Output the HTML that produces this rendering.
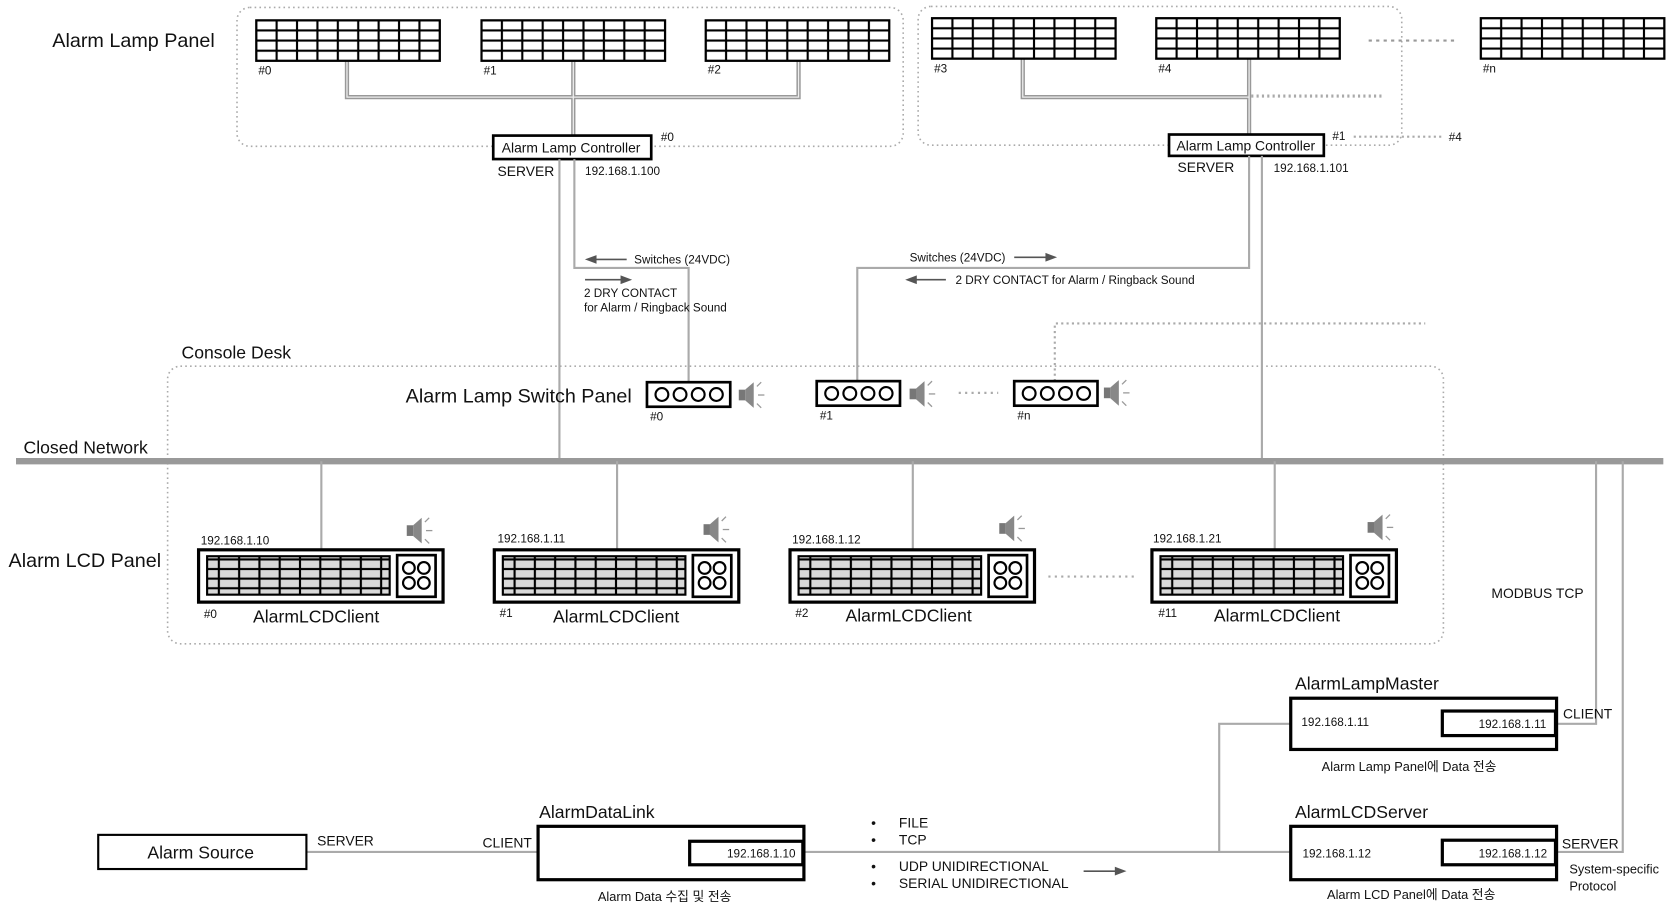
<!DOCTYPE html>
<html><head><meta charset="utf-8"><style>
html,body{margin:0;padding:0;background:#fff}
svg{display:block}
text{font-family:"Liberation Sans","Noto Sans CJK KR",sans-serif;fill:#111}
</style></head><body>
<svg width="1674" height="908" viewBox="0 0 1568 850.5" preserveAspectRatio="none" xmlns="http://www.w3.org/2000/svg">
<defs>
<pattern id="lg" patternUnits="userSpaceOnUse" width="19.11" height="9.5">
<rect x="0" y="0" width="19.11" height="9.5" fill="#fff" stroke="#000" stroke-width="2"/>
</pattern>
<pattern id="gg" patternUnits="userSpaceOnUse" width="19" height="9">
<rect x="0" y="0" width="19" height="9" fill="#d9d9d9" stroke="#000" stroke-width="2"/>
</pattern>
<g id="lamp"><rect x="0" y="0" width="172" height="38" fill="url(#lg)" stroke="#000" stroke-width="2"/></g>
<g id="lcd">
<rect x="0" y="0" width="229" height="49" fill="#fff" stroke="#000" stroke-width="3"/>
<rect x="8" y="6" width="171" height="36" fill="url(#gg)" stroke="#000" stroke-width="2"/>
<rect x="186" y="5" width="36" height="39" fill="#fff" stroke="#000" stroke-width="2.5"/>
<circle cx="197" cy="17" r="5.5" fill="none" stroke="#000" stroke-width="2"/>
<circle cx="211" cy="17" r="5.5" fill="none" stroke="#000" stroke-width="2"/>
<circle cx="197" cy="31" r="5.5" fill="none" stroke="#000" stroke-width="2"/>
<circle cx="211" cy="31" r="5.5" fill="none" stroke="#000" stroke-width="2"/>
</g>
<g id="sw">
<rect x="0" y="0" width="78" height="23" fill="#fff" stroke="#000" stroke-width="2.5"/>
<circle cx="14" cy="11.5" r="6" fill="none" stroke="#000" stroke-width="2"/>
<circle cx="31" cy="11.5" r="6" fill="none" stroke="#000" stroke-width="2"/>
<circle cx="48" cy="11.5" r="6" fill="none" stroke="#000" stroke-width="2"/>
<circle cx="65" cy="11.5" r="6" fill="none" stroke="#000" stroke-width="2"/>
</g>
<g id="spk">
<rect x="0" y="-5" width="6" height="10" fill="#777"/>
<polygon points="6,-5 14,-12 14,12 6,5" fill="#888"/>
<line x1="17" y1="-8" x2="21" y2="-12" stroke="#999" stroke-width="1.2"/>
<line x1="18" y1="0" x2="24" y2="0" stroke="#999" stroke-width="1.2"/>
<line x1="17" y1="8" x2="21" y2="12" stroke="#999" stroke-width="1.2"/>
</g>
</defs>

<rect x="222" y="7" width="624" height="130" rx="12" fill="none" stroke="#aaa" stroke-width="1.5" stroke-dasharray="1.5,3"/>
<rect x="860" y="6" width="453" height="130" rx="12" fill="none" stroke="#aaa" stroke-width="1.5" stroke-dasharray="1.5,3"/>
<rect x="157" y="343" width="1195" height="260" rx="12" fill="none" stroke="#aaa" stroke-width="1.5" stroke-dasharray="1.5,3"/>

<g fill="none" stroke="#999" stroke-width="4">
<path d="M325 56 V91 H748 V56"/><path d="M537 56 V127"/>
<path d="M958 54 V91 H1170"/><path d="M1170 54 V126"/>
</g>
<g fill="none" stroke="#eee" stroke-width="1.2">
<path d="M325 56 V91 H748 V56"/><path d="M537 56 V127"/>
<path d="M958 54 V91 H1170"/><path d="M1170 54 V126"/>
</g>
<line x1="1172" y1="90" x2="1295" y2="90" stroke="#aaa" stroke-width="3" stroke-dasharray="2,3"/>
<line x1="1268" y1="128" x2="1350" y2="128" stroke="#aaa" stroke-width="2" stroke-dasharray="2,3"/>

<use href="#lamp" x="240" y="19"/><use href="#lamp" x="451" y="19"/><use href="#lamp" x="661" y="19"/>
<use href="#lamp" x="873" y="17"/><use href="#lamp" x="1083" y="17"/><use href="#lamp" x="1387" y="17"/>
<line x1="1282" y1="38" x2="1365" y2="38" stroke="#999" stroke-width="2" stroke-dasharray="3,4"/>
<g font-size="11"><text x="242" y="70">#0</text><text x="453" y="70">#1</text><text x="663" y="69">#2</text>
<text x="875" y="68">#3</text><text x="1085" y="68">#4</text><text x="1389" y="68">#n</text></g>
<text x="49" y="44" font-size="18.5">Alarm Lamp Panel</text>

<rect x="462" y="127" width="148" height="22" fill="#fff" stroke="#000" stroke-width="2.5"/>
<text x="470" y="143" font-size="13">Alarm Lamp Controller</text>
<text x="619" y="132" font-size="11">#0</text>
<text x="466" y="165" font-size="13">SERVER</text><text x="548" y="164" font-size="11">192.168.1.100</text>
<rect x="1095" y="126" width="145" height="20" fill="#fff" stroke="#000" stroke-width="2.5"/>
<text x="1102" y="141" font-size="13">Alarm Lamp Controller</text>
<text x="1248" y="131" font-size="11">#1</text><text x="1357" y="132" font-size="11">#4</text>
<text x="1103" y="161" font-size="13">SERVER</text><text x="1193" y="161" font-size="11">192.168.1.101</text>

<g fill="none" stroke="#aaa" stroke-width="2">
<path d="M524 149 V432"/><path d="M538 149 V251 H645 V358"/>
<path d="M1170 146 V251 H803 V357"/><path d="M1182 146 V432"/>
</g>
<path d="M988 357 V303 H1335" fill="none" stroke="#aaa" stroke-width="2" stroke-dasharray="2,3"/>
<g stroke="#555" stroke-width="1.5" fill="#555">
<line x1="556" y1="243" x2="587" y2="243"/><polygon points="550,243 558,240 558,246"/>
<line x1="548" y1="262" x2="584" y2="262"/><polygon points="590,262 582,259 582,265"/>
<line x1="950" y1="241" x2="982" y2="241"/><polygon points="988,241 980,238 980,244"/>
<line x1="856" y1="262" x2="886" y2="262"/><polygon points="850,262 858,259 858,265"/>
<line x1="1015" y1="816" x2="1047" y2="816"/><polygon points="1053,816 1045,813 1045,819"/>
</g>
<g font-size="11">
<text x="594" y="247">Switches (24VDC)</text>
<text x="547" y="278">2 DRY CONTACT</text><text x="547" y="292">for Alarm / Ringback Sound</text>
<text x="852" y="245">Switches (24VDC)</text>
<text x="895" y="266">2 DRY CONTACT for Alarm / Ringback Sound</text>
</g>

<text x="170" y="336" font-size="16.5">Console Desk</text>
<text x="380" y="377" font-size="18.5">Alarm Lamp Switch Panel</text>
<use href="#sw" x="606" y="358"/><use href="#sw" x="765" y="357"/><use href="#sw" x="950" y="357"/>
<use href="#spk" x="692" y="370"/><use href="#spk" x="852" y="369"/><use href="#spk" x="1034" y="368"/>
<line x1="898" y1="368" x2="935" y2="368" stroke="#aaa" stroke-width="2" stroke-dasharray="2,4"/>
<g font-size="11"><text x="609" y="394">#0</text><text x="768" y="393">#1</text><text x="953" y="393">#n</text></g>

<line x1="15" y1="432" x2="1558" y2="432" stroke="#999" stroke-width="6"/>
<text x="22" y="425" font-size="16.5">Closed Network</text>
<g stroke="#aaa" stroke-width="2" fill="none">
<line x1="301" y1="432" x2="301" y2="515"/><line x1="578" y1="432" x2="578" y2="515"/>
<line x1="855" y1="432" x2="855" y2="515"/><line x1="1194" y1="432" x2="1194" y2="515"/>
<path d="M1495 432 V678 H1458"/><path d="M1520 432 V798 H1458"/>
<path d="M287 798 H504"/><path d="M753 798 H1209"/><path d="M1142 798 V678 H1209"/>
</g>

<text x="8" y="531" font-size="18.5">Alarm LCD Panel</text>
<use href="#lcd" x="186" y="515"/><use href="#lcd" x="463" y="515"/><use href="#lcd" x="740" y="515"/><use href="#lcd" x="1079" y="515"/>
<use href="#spk" x="381" y="497"/><use href="#spk" x="659" y="496"/><use href="#spk" x="936" y="495"/><use href="#spk" x="1281" y="494"/>
<line x1="982" y1="540" x2="1065" y2="540" stroke="#aaa" stroke-width="2" stroke-dasharray="2,4"/>
<g font-size="11"><text x="188" y="510">192.168.1.10</text><text x="466" y="508">192.168.1.11</text>
<text x="742" y="509">192.168.1.12</text><text x="1080" y="508">192.168.1.21</text>
<text x="191" y="579">#0</text><text x="468" y="578">#1</text><text x="745" y="578">#2</text><text x="1085" y="578">#11</text></g>
<g font-size="16.5"><text x="237" y="583">AlarmLCDClient</text><text x="518" y="583">AlarmLCDClient</text>
<text x="792" y="582">AlarmLCDClient</text><text x="1137" y="582">AlarmLCDClient</text></g>

<text x="1397" y="560" font-size="13">MODBUS TCP</text>

<text x="1213" y="646" font-size="16.5">AlarmLampMaster</text>
<rect x="1209" y="654" width="249" height="48" fill="#fff" stroke="#000" stroke-width="3"/>
<rect x="1351" y="666" width="106" height="23" fill="#fff" stroke="#000" stroke-width="3"/>
<text x="1219" y="680" font-size="11">192.168.1.11</text><text x="1385" y="682" font-size="11">192.168.1.11</text>
<text x="1464" y="673" font-size="13">CLIENT</text>
<text x="1238" y="722" font-size="12">Alarm Lamp Panel에 Data 전송</text>

<text x="1213" y="766" font-size="16.5">AlarmLCDServer</text>
<rect x="1209" y="774" width="249" height="50" fill="#fff" stroke="#000" stroke-width="3"/>
<rect x="1351" y="787" width="106" height="23" fill="#fff" stroke="#000" stroke-width="3"/>
<text x="1220" y="803" font-size="11">192.168.1.12</text><text x="1385" y="803" font-size="11">192.168.1.12</text>
<text x="1463" y="795" font-size="13">SERVER</text>
<text x="1470" y="818" font-size="12">System-specific</text><text x="1470" y="834" font-size="12">Protocol</text>
<text x="1243" y="842" font-size="12">Alarm LCD Panel에 Data 전송</text>

<text x="505" y="766" font-size="16.5">AlarmDataLink</text>
<rect x="504" y="774" width="249" height="50" fill="#fff" stroke="#000" stroke-width="3"/>
<rect x="646" y="788" width="106" height="22" fill="#fff" stroke="#000" stroke-width="3"/>
<text x="681" y="803" font-size="11">192.168.1.10</text>
<text x="452" y="794" font-size="13">CLIENT</text>
<text x="560" y="844" font-size="12">Alarm Data 수집 및 전송</text>

<rect x="92" y="782" width="195" height="32" fill="#fff" stroke="#000" stroke-width="2"/>
<text x="138" y="804" font-size="16.5">Alarm Source</text>
<text x="297" y="792" font-size="13">SERVER</text>

<g font-size="13"><text x="816" y="775">•</text><text x="842" y="775">FILE</text>
<text x="816" y="791">•</text><text x="842" y="791">TCP</text>
<text x="816" y="816">•</text><text x="842" y="816">UDP UNIDIRECTIONAL</text>
<text x="816" y="832">•</text><text x="842" y="832">SERIAL UNIDIRECTIONAL</text></g>
</svg>
</body></html>
